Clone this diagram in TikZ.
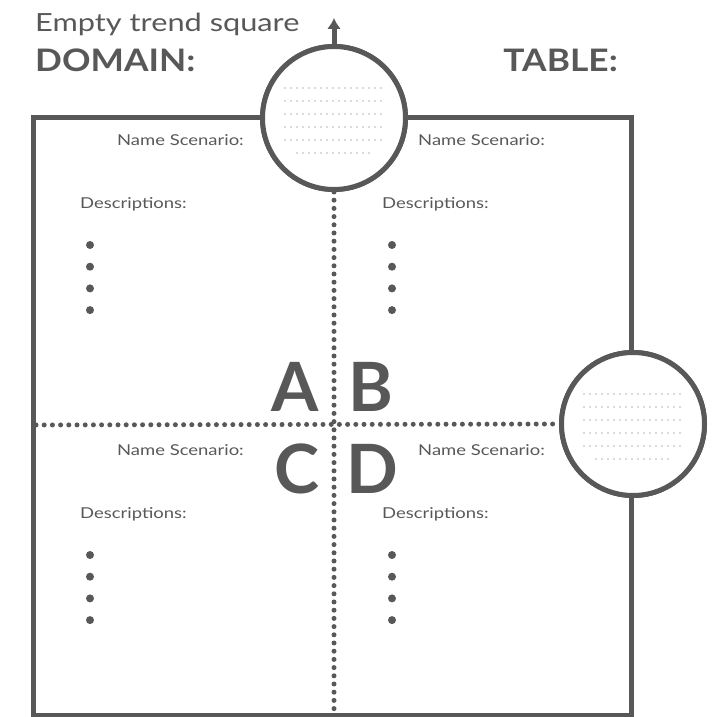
\documentclass[tikz,border=0pt]{standalone}
\usepackage{fontspec}
\setmainfont{Lato}[FakeStretch=1.23]
\newfontfamily\headfont{Lato}[FakeStretch=1.14]
\newfontfamily\letterfont{Lato}
\usetikzlibrary{arrows.meta}

\definecolor{ink}{RGB}{88,88,88}
\tikzstyle{frame}=[draw=ink, line width=5pt]
\tikzstyle{axis}=[circle, draw=ink, fill=white, line width=5pt, minimum size=143pt, inner sep=0pt]
\tikzstyle{dotline}=[draw=ink, line width=5pt, line cap=round, dash pattern=on 0pt off 8.2pt]
\tikzstyle{fillrow}=[draw=black!28, line width=1.7pt, line cap=round, dash pattern=on 0pt off 6pt]
\tikzstyle{small}=[text=ink, inner sep=0pt, font=\fontsize{15}{18}\selectfont]
\tikzstyle{head}=[text=ink, inner sep=0pt, font=\headfont\fontsize{31}{36}\selectfont\bfseries]
\tikzstyle{letter}=[text=ink, inner sep=0pt, font=\letterfont\fontsize{68}{70}\selectfont\bfseries]
\tikzstyle{bullet}=[circle, fill=ink, minimum size=8pt, inner sep=0pt]

\begin{document}
\begin{tikzpicture}[x=1pt,y=1pt,>={Latex[length=11pt,width=14pt]}]
    \useasboundingbox (0,0) rectangle (716,717);
    % the square and its quarters
    \draw[frame] (33,1) rectangle (631,599);
    \coordinate (west) at (36,292);
    \coordinate (south) at (334,1);
    \node[axis] (vaxis) at (334,599) {};
    \node[axis] (haxis) at (633,293) {};
    \draw[dotline] (vaxis.south) -- (south);
    \draw[dotline] (west) -- (haxis.west);
    \node[axis] at (vaxis) {};
    \node[axis] at (haxis) {};
    % empty rows inside the circles
    \foreach \c in {vaxis,haxis} {
        \foreach \dy in {30,17,4,-9,-22}
            \draw[fillrow] ([shift={(-49,\dy)}]\c.center) -- ++(98,0);
        \draw[fillrow] ([shift={(-37,-35)}]\c.center) -- ++(74,0);
    }
    \coordinate (top) at (334,699);
    \draw[->, draw=ink, fill=ink, line width=5pt] (vaxis.north) -- (top);

    % headings
    \node[text=ink, inner sep=0pt, anchor=base west, font=\fontsize{25}{30}\selectfont] (title) at (35,685) {Empty trend square};
    \node[head, anchor=base west] (domain) at (35,645) {DOMAIN:};
    \node[head, anchor=base east] (table) at (618,645) {TABLE:};

    % the four letters
    \node[letter, anchor=base east] (A) at (319,305) {A};
    \node[letter, anchor=base west] (B) at (348,305) {B};
    \node[letter, anchor=base east] (C) at (320,223) {C};
    \node[letter, anchor=base west] (D) at (346,223) {D};

    % scenario blocks
    \foreach \n/\nx/\na/\dx/\y in {a/244/east/80/571, b/418/west/382/571, c/244/east/80/261, d/418/west/382/261} {
        \node[small, anchor=base \na] (name\n) at (\nx,\y) {Name Scenario:};
        \node[small, anchor=base west] (desc\n) at (\dx,\y-63) {Descriptions:};
        \foreach \k in {0,1,2,3}
            \node[bullet] (bul\n\k) at (\dx+10,\y-99-21.7*\k) {};
    }
\end{tikzpicture}
\end{document}
